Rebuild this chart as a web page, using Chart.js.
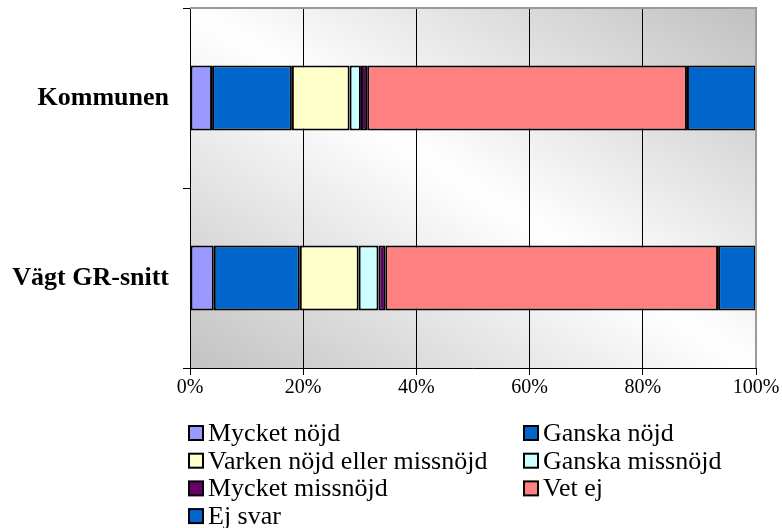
<!DOCTYPE html>
<html><head><meta charset="utf-8">
<script src="https://cdn.jsdelivr.net/npm/chart.js@4/dist/chart.umd.min.js"></script>
<style>html,body{margin:0;padding:0;background:#fff}#wrap{width:782px;height:528px;position:relative}</style>
</head><body><div id="wrap"><canvas id="c" width="782" height="528"></canvas></div>
<script>
const categories = ['Kommunen', 'Vägt GR-snitt'];
const seriesNames = ['Mycket nöjd', 'Ganska nöjd', 'Varken nöjd eller missnöjd', 'Ganska missnöjd', 'Mycket missnöjd', 'Vet ej', 'Ej svar'];
const mycketNojd = [3.9, 4.2];
const ganskaNojd = [14.1, 15.2];
const varken = [10.2, 10.4];
const ganskaMissnojd = [2.0, 3.5];
const mycketMissnojd = [1.1, 1.2];
const vetEj = [56.5, 58.8];
const ejSvar = [12.2, 6.7];
const xTicks = [0, 20, 40, 60, 80, 100];
const colors = ['#9999FF', '#0066CC', '#FFFFCC', '#CCFFFF', '#660066', '#FF8080', '#0066CC'];
const seriesValues = [mycketNojd, ganskaNojd, varken, ganskaMissnojd, mycketMissnojd, vetEj, ejSvar];

const FONT = "'Liberation Serif', 'Times New Roman', serif";

const bgPlugin = {
  id: 'bg',
  beforeDraw(chart) {
    const {ctx, chartArea: a} = chart;
    const W = a.right - a.left, H = a.bottom - a.top;
    ctx.save();
    ctx.translate(a.left, a.top);
    ctx.scale(W, H);
    const g = ctx.createLinearGradient(0, 1, 1, 0);
    g.addColorStop(0, '#c2c2c2');
    g.addColorStop(0.5, '#ffffff');
    g.addColorStop(1, '#c0c0c0');
    ctx.fillStyle = g;
    ctx.fillRect(0, 0, 1, 1);
    ctx.restore();
  },
  afterDatasetsDraw(chart) {
    const {ctx, chartArea: a} = chart;
    ctx.save();
    ctx.strokeStyle = '#9a9a9a';
    ctx.lineWidth = 2;
    ctx.beginPath();
    ctx.moveTo(a.left, a.top);
    ctx.lineTo(a.right, a.top);
    ctx.lineTo(a.right, a.bottom);
    ctx.stroke();
    ctx.restore();
  }
};

const legendPlugin = {
  id: 'gridLegend',
  afterDraw(chart) {
    const {ctx, chartArea: a} = chart;
    const ds = chart.data.datasets;
    const colX = [a.left - 2, a.left + 333];
    const rowY0 = a.bottom + 65, rowH = 27.7;
    ctx.save();
    ctx.font = '26px ' + FONT;
    ctx.textBaseline = 'middle';
    ctx.textAlign = 'left';
    ds.forEach((d, i) => {
      const x = colX[i % 2];
      const y = rowY0 + Math.floor(i / 2) * rowH;
      ctx.fillStyle = d.backgroundColor;
      ctx.fillRect(x + 1, y - 7, 14, 14);
      ctx.strokeStyle = '#000';
      ctx.lineWidth = 2;
      ctx.strokeRect(x + 1, y - 7, 14, 14);
      ctx.fillStyle = '#000';
      ctx.fillText(d.label, x + 20, y + 1);
    });
    ctx.restore();
  }
};

new Chart(document.getElementById('c'), {
  type: 'bar',
  data: {
    labels: categories,
    datasets: seriesNames.map((n, i) => ({
      label: n,
      data: seriesValues[i],
      backgroundColor: colors[i],
      borderColor: '#000',
      borderWidth: 2,
      borderSkipped: false,
      barPercentage: 0.36,
      categoryPercentage: 1.0
    }))
  },
  options: {
    indexAxis: 'y',
    responsive: false,
    animation: false,
    devicePixelRatio: 1,
    layout: {padding: {top: 8, right: 26, bottom: 120, left: 0}},
    plugins: {legend: {display: false}, tooltip: {enabled: false}},
    scales: {
      x: {
        stacked: true,
        min: 0, max: 100,
        afterBuildTicks(s) { s.ticks = xTicks.map(v => ({value: v})); },
        afterFit(s) { s.height = 40; s.paddingLeft = 0; s.paddingRight = 0; },
        ticks: {
          callback: v => v + '%',
          font: {family: FONT, size: 20},
          color: '#000',
          padding: 1,
          maxRotation: 0
        },
        grid: {
          color: ctx => (ctx.tick && ctx.tick.value === 100) ? '#9a9a9a' : '#000',
          lineWidth: 1,
          tickLength: 7,
          tickColor: '#000',
          drawOnChartArea: true
        },
        border: {display: true, color: '#000', width: 1}
      },
      y: {
        stacked: true,
        afterFit(s) { s.width = 190; s.paddingTop = 0; s.paddingBottom = 0; },
        ticks: {
          font: {family: FONT, size: 26, weight: 'bold'},
          color: '#000',
          padding: 14
        },
        grid: {
          offset: true,
          drawOnChartArea: false,
          tickLength: 7,
          color: '#000'
        },
        border: {display: true, color: '#000', width: 1}
      }
    }
  },
  plugins: [bgPlugin, legendPlugin]
});
</script></body></html>
